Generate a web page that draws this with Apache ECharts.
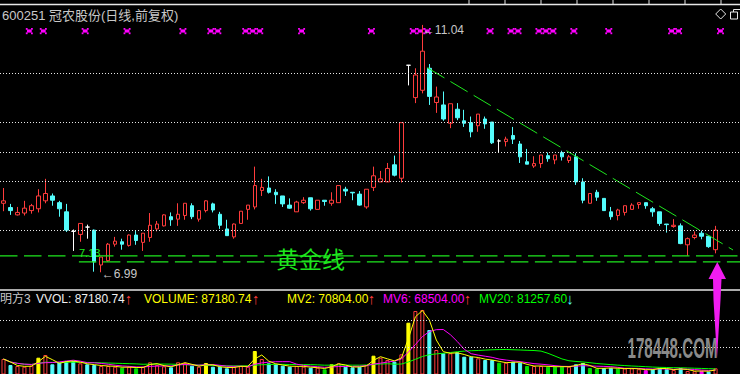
<!DOCTYPE html>
<html>
<head>
<meta charset="utf-8">
<script src="https://cdn.jsdelivr.net/npm/echarts@6.0.0/dist/echarts.min.js"></script>
<style>
html,body{margin:0;padding:0;background:#000;overflow:hidden;}
#chart{width:740px;height:374px;}
</style>
</head>
<body>
<div id="chart"></div>
<script>
// ---------------- data ----------------
const stockTitle = '600251 冠农股份(日线,前复权)';
const indicatorName = '明方3';
const opens = [8.12,8.05,7.93,7.96,8.00,8.03,8.16,8.24,8.13,7.98,
  7.66,7.61,7.73,7.68,7.11,7.18,7.45,7.49,7.43,7.60,
  7.48,7.56,7.70,7.75,7.90,7.86,7.92,8.08,7.86,8.00,
  8.11,7.94,7.70,7.57,7.79,8.02,8.06,8.33,8.37,8.30,
  8.24,8.09,7.98,8.13,8.21,8.02,8.17,8.12,8.13,8.35,
  8.30,8.27,8.06,8.38,8.47,8.47,8.75,8.53,10.38,9.85,
  9.97,10.33,9.77,9.73,9.43,9.66,9.47,9.44,9.39,9.50,
  9.45,9.14,9.13,9.23,9.09,8.80,8.73,8.77,8.90,8.83,
  8.95,8.82,8.88,8.47,8.12,8.30,8.20,7.98,7.92,7.97,
  8.02,8.10,8.13,8.03,7.98,7.78,7.74,7.75,7.44,7.56,
  7.63,7.58,7.36];
const closes = [8.16,8.00,7.97,8.04,8.08,8.24,8.28,8.17,8.03,7.68,
  7.66,7.79,7.73,7.16,7.24,7.45,7.50,7.45,7.60,7.51,
  7.63,7.76,7.78,7.93,7.85,7.94,8.12,7.90,8.00,8.16,
  8.01,7.76,7.59,7.78,7.99,8.09,8.41,8.38,8.30,8.26,
  8.11,8.04,8.14,8.17,8.03,8.17,8.15,8.17,8.41,8.32,
  8.29,8.09,8.35,8.57,8.52,8.69,8.58,9.44,10.38,10.22,
  10.61,9.87,9.86,9.50,9.75,9.52,9.43,9.29,9.58,9.42,
  9.11,9.14,9.17,9.17,8.88,8.76,8.77,8.91,8.85,8.91,
  8.88,8.88,8.47,8.17,8.28,8.22,8.00,7.90,8.01,8.08,
  8.09,8.13,8.08,7.98,7.79,7.77,7.76,7.46,7.54,7.60,
  7.58,7.41,7.68];
const lows = [7.99,7.93,7.92,7.92,7.95,7.97,8.12,8.08,7.90,7.65,
  7.34,7.49,7.54,7.00,6.99,7.16,7.41,7.36,7.41,7.44,
  7.34,7.49,7.66,7.74,7.75,7.75,7.85,7.86,7.82,7.97,
  7.97,7.70,7.59,7.54,7.79,7.85,8.02,8.24,8.28,8.11,
  8.06,8.03,7.98,8.11,8.00,8.02,8.08,8.08,8.13,8.24,
  8.17,8.08,8.03,8.32,8.47,8.47,8.56,8.46,10.05,9.76,
  9.92,9.73,9.60,9.47,9.35,9.48,9.37,9.20,9.29,9.34,
  9.09,8.96,9.05,9.09,8.78,8.76,8.70,8.70,8.80,8.76,
  8.82,8.78,8.42,8.12,8.12,8.16,8.00,7.85,7.84,7.92,
  8.02,8.03,8.03,7.90,7.75,7.64,7.72,7.45,7.26,7.53,
  7.53,7.39,7.30];
const highs = [8.37,8.11,8.06,8.16,8.11,8.35,8.52,8.28,8.16,8.11,
  7.69,7.79,7.77,7.69,7.24,7.47,7.57,7.54,7.61,7.68,
  7.63,7.96,7.83,7.94,7.97,8.12,8.12,8.12,8.00,8.17,
  8.13,7.98,7.85,7.79,7.99,8.09,8.72,8.52,8.56,8.35,
  8.24,8.20,8.16,8.22,8.21,8.17,8.17,8.30,8.41,8.39,
  8.30,8.32,8.35,8.72,8.65,8.78,8.90,9.44,10.38,10.33,
  11.04,10.40,10.03,9.95,9.75,9.76,9.65,9.54,9.58,9.54,
  9.45,9.17,9.21,9.37,9.14,9.01,8.89,8.91,8.95,8.91,
  8.98,8.91,8.94,8.53,8.28,8.34,8.20,8.06,8.03,8.08,
  8.12,8.13,8.13,8.06,7.98,7.78,7.86,7.79,7.56,7.66,
  7.67,7.58,7.75];
const volumes = [180000,120000,110000,103000,113000,193000,220000,127000,147000,160000,
  160000,137000,127000,120000,110000,110000,103000,93000,103000,87000,
  103000,147000,120000,107000,97000,147000,140000,113000,103000,140000,
  103000,103000,87000,103000,110000,103000,260000,180000,137000,127000,
  113000,103000,110000,103000,93000,93000,77000,127000,137000,103000,
  97000,103000,120000,213000,193000,170000,153000,227000,543000,660000,
  670000,470000,270000,237000,237000,247000,203000,203000,187000,170000,
  170000,143000,143000,153000,143000,110000,110000,110000,103000,103000,
  103000,103000,127000,140000,90000,84000,90000,91000,84000,85000,
  86000,78000,68000,78000,92000,78000,70128,90000,60000,58416,
  61000,54427.26,87180.74];
const signalDays = [3,5,11,17,25,29,30,34,35,36,42,52,58,59,60,69,72,73,76,77,78,81,86,95,96,102];
const doubleVolDays = [5,29,36,47,53,58];
const lowVolDays = [17,19,46,71,75,78,79,80,84,85,88];
const pinkVolDays = [92,100];
const priceGridLines = [10.25, 9.45, 8.96, 8.485, 7.68];
const volumeGridLines = [563000, 297000];
const goldenLevels = [7.26, 7.16];
const goldenStarts = [-0.5, 10.8];
const goldenLabel = '7.13';
const goldenName = '黄金线';
const trendLine = [[60.7, 10.34], [104.5, 7.355]];
const watermark = '178448.COM';
const blankDays = 3;

// ---------------- derived ----------------
const N = opens.length;
const days = Array.from({length: N + blankDays}, (_, i) => String(i + 1));
const RED = '#FF3C3C', CYAN = '#54FCFC', YELLOW = '#FFFF00', MAGENTA = '#FF00FF',
      GREEN = '#1EE61E', GREY = '#C8C8C8', WHITE = '#FFFFFF';
const FONT = "'Liberation Sans','DejaVu Sans','Noto Sans CJK SC',sans-serif";
const xMin = -0.5, xMax = N + blankDays - 0.5;
const pMin = 6.7, pMax = 11.35, vMin = 30000, vMax = 860000;

const candleData = opens.map((o, i) => {
  const item = {value: [o, closes[i], lows[i], highs[i]]};
  if (o === closes[i]) item.itemStyle = {color: WHITE, color0: WHITE, borderColor: WHITE, borderColor0: WHITE};
  return item;
});
const volData = volumes.map((v, i) => {
  let fill, stroke;
  if (doubleVolDays.includes(i)) { fill = stroke = YELLOW; }
  else if (lowVolDays.includes(i)) { fill = stroke = '#00E000'; }
  else if (pinkVolDays.includes(i)) { fill = stroke = MAGENTA; }
  else if (closes[i] > opens[i]) { fill = '#000'; stroke = RED; }
  else { fill = stroke = CYAN; }
  return {value: v, itemStyle: {color: fill, borderColor: stroke, borderWidth: 1}};
});
function ma(n) {
  return volumes.map((_, i) => {
    const s = Math.max(0, i - n + 1);
    let sum = 0;
    for (let k = s; k <= i; k++) sum += volumes[k];
    return +(sum / (i - s + 1)).toFixed(2);
  });
}
const mv2 = ma(2), mv6 = ma(6), mv20 = ma(20);
let hiIdx = 0, loIdx = 0;
highs.forEach((h, i) => { if (h > highs[hiIdx]) hiIdx = i; });
lows.forEach((l, i) => { if (l < lows[loIdx]) loIdx = i; });
const L = N - 1;
const up = (a) => a[L] >= a[L - 1];

function renderSignal(params, api) {
  const x = api.coord([api.value(0) + 0.7, api.value(1)])[0];
  const y = 31;
  const px = (dx, dy, w, h) => ({type: 'rect', shape: {x: x + dx, y: y + dy, width: w, height: h}, style: {fill: MAGENTA}});
  return {type: 'group', children: [
    px(-3.5, -3, 1.8, 1.8), px(1.7, -3, 1.8, 1.8),
    px(-2.4, -1.6, 4.8, 3.2),
    px(-3.5, 1.4, 1.8, 1.8), px(1.7, 1.4, 1.8, 1.8)
  ]};
}

// watermark horizontal scale
const wmFont = "bold 29px 'Liberation Sans','DejaVu Sans',sans-serif";
const mctx = document.createElement('canvas').getContext('2d');
mctx.font = wmFont;
const wmScale = 90 / mctx.measureText(watermark).width;

const txt = (x, y, text, fill, size) => ({
  type: 'text', x: x, y: y, silent: true,
  style: {text: text, fill: fill, font: size + 'px ' + FONT, textVerticalAlign: 'middle'}
});
const arrowTxt = (x, a) => ({
  type: 'text', x: x, y: 298, silent: true,
  style: {text: up(a) ? '↑' : '↓', fill: up(a) ? RED : CYAN, font: '15px ' + FONT,
          textAlign: 'center', textVerticalAlign: 'middle'}
});
const hline = (x1, y1, x2, y2, w) => ({type: 'line', silent: true,
  shape: {x1: x1, y1: y1, x2: x2, y2: y2}, style: {stroke: '#E6E6E6', lineWidth: w}});

const tickXs = [469, 505, 541, 577, 613, 649, 685, 721];

const graphics = [
  hline(0, 4.5, 740, 4.5, 1.5),
  hline(0, 290, 740, 290, 1.5),
  ...tickXs.map(x => hline(x, 0, x, 4, 1)),
  {type: 'polygon', silent: true, shape: {points: [[720.7, 9], [725.7, 14], [720.7, 19], [715.7, 14]]},
   style: {fill: 'none', stroke: '#E6E6E6', lineWidth: 1}},
  {type: 'rect', silent: true, shape: {x: 730.5, y: 12, width: 7, height: 7}, style: {fill: 'none', stroke: '#E6E6E6', lineWidth: 1}},
  {type: 'polyline', silent: true, shape: {points: [[733.5, 12], [733.5, 9.5], [740, 9.5]]}, style: {fill: 'none', stroke: '#E6E6E6', lineWidth: 1}},
  txt(2, 15, stockTitle, GREY, 13),
  {type: 'text', x: 276, y: 258, silent: true,
   style: {text: goldenName, fill: GREEN, font: "23px 'Noto Sans CJK SC',sans-serif", textVerticalAlign: 'middle'}},
  txt(79, 253, goldenLabel, GREEN, 11),
  txt(0, 299, indicatorName, GREY, 12),
  txt(36, 299, 'VVOL: ' + volumes[L].toFixed(2), '#F0F0F0', 12),
  arrowTxt(128.5, volumes),
  txt(144, 299, 'VOLUME: ' + volumes[L].toFixed(2), YELLOW, 12),
  arrowTxt(255.7, volumes),
  txt(287, 299, 'MV2: ' + mv2[L].toFixed(2), YELLOW, 12),
  arrowTxt(371.5, mv2),
  txt(383, 299, 'MV6: ' + mv6[L].toFixed(2), MAGENTA, 12),
  arrowTxt(467.5, mv6),
  txt(479, 299, 'MV20: ' + mv20[L].toFixed(2), '#00FF00', 12),
  arrowTxt(570, mv20),
  {type: 'text', x: 672.5, y: 348, scaleX: wmScale, silent: true, z: 50,
   style: {text: watermark, fill: '#8A8A8A', font: wmFont, textAlign: 'center', textVerticalAlign: 'middle',
           shadowBlur: 3, shadowColor: 'rgba(150,150,150,0.9)'}},
  {type: 'polygon', silent: true, z: 60,
   shape: {points: [[717.3, 262], [708.5, 279], [713, 279], [713.5, 300], [717, 358], [720.5, 300], [721.5, 279], [726, 279]]},
   style: {fill: '#F01CF0'}}
];

const chart = echarts.init(document.getElementById('chart'), null, {renderer: 'svg', width: 740, height: 374});
chart.setOption({
  backgroundColor: '#000',
  animation: false,
  grid: [
    {left: 0, width: 742, top: 6, height: 284},
    {left: 0, width: 742, top: 291, height: 83}
  ],
  xAxis: [
    {type: 'category', gridIndex: 0, data: days, show: false, boundaryGap: true},
    {type: 'value', gridIndex: 0, min: xMin, max: xMax, show: false},
    {type: 'category', gridIndex: 1, data: days, show: false, boundaryGap: true}
  ],
  yAxis: [
    {type: 'value', gridIndex: 0, min: pMin, max: pMax, show: false, splitLine: {show: false}},
    {type: 'value', gridIndex: 1, min: vMin, max: vMax, show: false, splitLine: {show: false}}
  ],
  graphic: graphics,
  series: [
    {
      type: 'candlestick', xAxisIndex: 0, yAxisIndex: 0, barWidth: 4, data: candleData,
      itemStyle: {color: '#000', color0: CYAN, borderColor: RED, borderColor0: CYAN, borderWidth: 1},
      emphasis: {disabled: true},
      markPoint: {
        symbol: 'rect', symbolSize: 1, silent: true,
        itemStyle: {color: 'rgba(0,0,0,0)'},
        label: {show: true, position: 'right', distance: 0, color: GREY, fontSize: 12, fontFamily: FONT},
        data: [
          {coord: [hiIdx, highs[hiIdx]], label: {formatter: '←' + highs[hiIdx].toFixed(2), offset: [0, 5]}},
          {coord: [loIdx, lows[loIdx]], label: {formatter: '←' + lows[loIdx].toFixed(2), offset: [0, 2]}}
        ]
      }
    },
    {
      type: 'line', xAxisIndex: 1, yAxisIndex: 0, data: trendLine, showSymbol: false, silent: true,
      lineStyle: {color: GREEN, width: 1, type: [20, 7]},
      markLine: {
        silent: true, symbol: ['none', 'none'], label: {show: false},
        lineStyle: {color: '#E8E8E8', width: 1, type: [1, 2]},
        data: priceGridLines.map(v => ({yAxis: v}))
      }
    },
    ...goldenLevels.map((lv, k) => ({
      type: 'line', xAxisIndex: 1, yAxisIndex: 0, showSymbol: false, silent: true,
      data: [[goldenStarts[k], lv], [xMax, lv]],
      lineStyle: {color: GREEN, width: 1.2, type: [17.5, 6.5]}
    })),
    {
      type: 'custom', xAxisIndex: 1, yAxisIndex: 0, silent: true,
      data: signalDays.map(d => [d, pMax]),
      renderItem: renderSignal
    },
    {
      type: 'bar', xAxisIndex: 2, yAxisIndex: 1, barWidth: 4, data: volData, clip: true, silent: true,
      markLine: {
        silent: true, symbol: ['none', 'none'], label: {show: false},
        lineStyle: {color: '#E8E8E8', width: 1, type: [1, 2]},
        data: volumeGridLines.map(v => ({yAxis: v}))
      }
    },
    {type: 'line', xAxisIndex: 2, yAxisIndex: 1, data: mv20, showSymbol: false, silent: true, clip: true, lineStyle: {color: '#00FF00', width: 1}},
    {type: 'line', xAxisIndex: 2, yAxisIndex: 1, data: mv6, showSymbol: false, silent: true, clip: true, lineStyle: {color: MAGENTA, width: 1}},
    {type: 'line', xAxisIndex: 2, yAxisIndex: 1, data: mv2, showSymbol: false, silent: true, clip: true, lineStyle: {color: YELLOW, width: 1}}
  ]
});
</script>
</body>
</html>
